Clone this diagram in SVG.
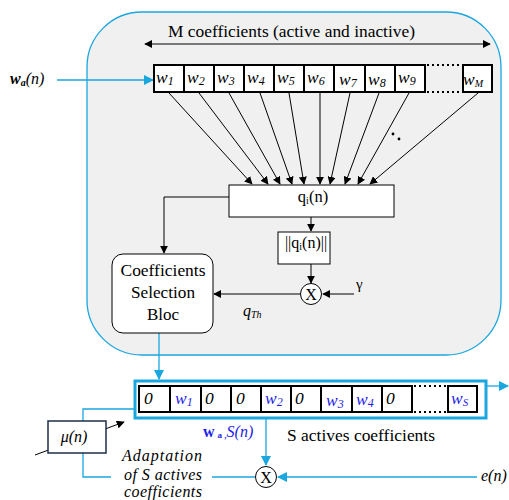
<svg xmlns="http://www.w3.org/2000/svg" width="509" height="500" viewBox="0 0 509 500" font-family="'Liberation Serif', 'Times New Roman', serif">
<defs>
<marker id="ab" viewBox="0 0 10 10" refX="9" refY="5" markerWidth="8" markerHeight="8" markerUnits="userSpaceOnUse" orient="auto-start-reverse"><path d="M0,0 L10,5 L0,10 z" fill="#000"/></marker>
<marker id="ac" viewBox="0 0 10 10" refX="9" refY="5" markerWidth="10" markerHeight="10" markerUnits="userSpaceOnUse" orient="auto-start-reverse"><path d="M0,0 L10,5 L0,10 z" fill="#1aa7e0"/></marker>
<style>
text{fill:#000}
.w{font-style:italic;font-size:17.5px}
.b{fill:#1e1ee6}
.cell{fill:#fff;stroke:#000;stroke-width:2}
.k{stroke:#000;stroke-width:1;fill:none}
.c{stroke:#1aa7e0;stroke-width:1.3;fill:none}
.dot{stroke:#000;stroke-width:2;stroke-dasharray:2,3;fill:none}
</style>
</defs>
<rect id="frame" x="87" y="12" width="414" height="343" rx="55" fill="#f0f0f0" stroke="#1aa7e0" stroke-width="1.3"/>
<g id="connectors">
<line class="k" x1="145" y1="44" x2="490" y2="44" marker-start="url(#ab)" marker-end="url(#ab)"/>
<line class="c" x1="57" y1="80" x2="153" y2="80" marker-end="url(#ac)"/>
<line class="k" x1="169" y1="93" x2="252" y2="184" marker-end="url(#ab)"/>
<line class="k" x1="199" y1="93" x2="268" y2="184" marker-end="url(#ab)"/>
<line class="k" x1="229" y1="93" x2="280" y2="184" marker-end="url(#ab)"/>
<line class="k" x1="260" y1="93" x2="292" y2="184" marker-end="url(#ab)"/>
<line class="k" x1="289" y1="93" x2="304" y2="184" marker-end="url(#ab)"/>
<line class="k" x1="320" y1="93" x2="320" y2="184" marker-end="url(#ab)"/>
<line class="k" x1="350" y1="93" x2="330" y2="184" marker-end="url(#ab)"/>
<line class="k" x1="379" y1="93" x2="345" y2="184" marker-end="url(#ab)"/>
<line class="k" x1="409" y1="93" x2="358" y2="184" marker-end="url(#ab)"/>
<line class="k" x1="478" y1="93" x2="370" y2="184" marker-end="url(#ab)"/>
<polyline class="k" points="229,197 164,197 164,253" marker-end="url(#ab)"/>
<line class="k" x1="311" y1="217" x2="311" y2="231" marker-end="url(#ab)"/>
<line class="k" x1="311" y1="264" x2="311" y2="283" marker-end="url(#ab)"/>
<line class="k" x1="354" y1="294" x2="323" y2="294" marker-end="url(#ab)"/>
<line class="k" x1="300" y1="294" x2="214" y2="294" marker-end="url(#ab)"/>
<line class="c" x1="159" y1="333" x2="159" y2="379" marker-end="url(#ac)"/>
<line class="c" x1="486" y1="386" x2="508" y2="386" marker-end="url(#ac)"/>
<polyline class="c" points="135,409 83,409 83,421"/>
<polyline class="c" points="83,453 83,477 111,477"/>
<line class="c" x1="212" y1="477" x2="255" y2="477"/>
<line class="c" x1="266" y1="418" x2="266" y2="465" marker-end="url(#ac)"/>
<line class="c" x1="477" y1="477" x2="278" y2="477" marker-end="url(#ac)"/>
<line class="k" x1="35" y1="455" x2="124" y2="422" marker-end="url(#ab)"/>
</g>
<text x="168" y="37" font-size="17" textLength="247" lengthAdjust="spacingAndGlyphs">M coefficients (active and inactive)</text>
<text x="10" y="84" font-size="16" font-style="italic" font-weight="bold">w<tspan font-size="10" dy="2">a</tspan><tspan dy="-2" font-weight="normal">(n)</tspan></text>
<g id="reg-top">
<rect class="cell" x="154" y="65" width="30" height="27"/>
<rect class="cell" x="184" y="65" width="30" height="27"/>
<rect class="cell" x="214" y="65" width="30" height="27"/>
<rect class="cell" x="244" y="65" width="30" height="27"/>
<rect class="cell" x="274" y="65" width="30" height="27"/>
<rect class="cell" x="304" y="65" width="30" height="27"/>
<rect class="cell" x="334" y="65" width="31" height="27"/>
<rect class="cell" x="365" y="65" width="30" height="27"/>
<rect class="cell" x="395" y="65" width="30" height="27"/>
<line class="dot" x1="427" y1="65" x2="462" y2="65"/>
<line class="dot" x1="427" y1="92" x2="462" y2="92"/>
<rect class="cell" x="463" y="65" width="29" height="27"/>
<text class="w" x="156" y="83">w<tspan font-size="12" dy="2">1</tspan></text>
<text class="w" x="187" y="83">w<tspan font-size="12" dy="2">2</tspan></text>
<text class="w" x="217" y="83">w<tspan font-size="12" dy="2">3</tspan></text>
<text class="w" x="247" y="83">w<tspan font-size="12" dy="2">4</tspan></text>
<text class="w" x="277" y="83">w<tspan font-size="12" dy="2">5</tspan></text>
<text class="w" x="307" y="83">w<tspan font-size="12" dy="2">6</tspan></text>
<text class="w" x="339" y="85">w<tspan font-size="12" dy="2">7</tspan></text>
<text class="w" x="368" y="85">w<tspan font-size="12" dy="2">8</tspan></text>
<text class="w" x="398" y="83">w<tspan font-size="12" dy="2">9</tspan></text>
<text class="w" x="463" y="85">w<tspan font-size="10" dy="2">M</tspan></text>
</g>
<circle cx="393" cy="134" r="1.4" fill="#000"/>
<circle cx="399" cy="139" r="1.4" fill="#000"/>
<g id="q">
<rect x="229" y="185" width="165" height="32" fill="#fff" stroke="#000" stroke-width="1"/>
<text x="313" y="202" font-size="16.5" text-anchor="middle">q<tspan font-size="10" dy="2">i</tspan><tspan dy="-2">(n)</tspan></text>
</g>
<g id="norm">
<rect x="278" y="232" width="52" height="32" fill="#fff" stroke="#000" stroke-width="1"/>
<text x="306" y="248" font-size="16" text-anchor="middle">||q<tspan font-size="10" dy="2">i</tspan><tspan dy="-2">(n)||</tspan></text>
</g>
<g id="mult1">
<circle cx="311" cy="294" r="10.5" fill="#fff" stroke="#000" stroke-width="1"/>
<text x="311" y="300" font-size="16" text-anchor="middle">X</text>
</g>
<text x="356" y="289" font-size="15">γ</text>
<text x="243" y="316" font-size="16" font-style="italic">q<tspan font-size="10" dy="2">Th</tspan></text>
<g id="csb">
<rect x="112" y="254" width="101" height="79" rx="11" fill="#fff" stroke="#000" stroke-width="1"/>
<text x="163" y="276" font-size="17" text-anchor="middle" textLength="85" lengthAdjust="spacingAndGlyphs">Coefficients</text>
<text x="163" y="298" font-size="17" text-anchor="middle" textLength="64" lengthAdjust="spacingAndGlyphs">Selection</text>
<text x="163" y="320" font-size="17" text-anchor="middle">Bloc</text>
</g>
<g id="reg-bot">
<rect x="135" y="381" width="351" height="37" fill="#fff" stroke="#1aa7e0" stroke-width="3"/>
<rect class="cell" x="139" y="386" width="31" height="26"/>
<rect class="cell" x="170" y="386" width="31" height="26"/>
<rect class="cell" x="201" y="386" width="30" height="26"/>
<rect class="cell" x="231" y="386" width="30" height="26"/>
<rect class="cell" x="261" y="386" width="30" height="26"/>
<rect class="cell" x="291" y="386" width="30" height="26"/>
<rect class="cell" x="321" y="386" width="31" height="26"/>
<rect class="cell" x="352" y="386" width="30" height="26"/>
<rect class="cell" x="382" y="386" width="30" height="26"/>
<line class="dot" x1="414" y1="386" x2="448" y2="386"/>
<line class="dot" x1="414" y1="412" x2="448" y2="412"/>
<rect class="cell" x="448" y="386" width="29" height="26"/>
<text class="w" x="144" y="404">0</text>
<text class="w b" x="175" y="404">w<tspan font-size="12" dy="2">1</tspan></text>
<text class="w" x="205" y="404">0</text>
<text class="w" x="236" y="404">0</text>
<text class="w b" x="265" y="404">w<tspan font-size="12" dy="2">2</tspan></text>
<text class="w" x="295" y="404">0</text>
<text class="w b" x="326" y="406">w<tspan font-size="12" dy="2">3</tspan></text>
<text class="w b" x="356" y="405">w<tspan font-size="12" dy="2">4</tspan></text>
<text class="w" x="386" y="404">0</text>
<text class="w b" x="451" y="404">w<tspan font-size="11" dy="2">S</tspan></text>
</g>
<text x="203" y="437" font-size="16" font-weight="bold" class="b">w<tspan font-size="9" dx="3" dy="1">a ,</tspan><tspan font-style="italic" font-weight="normal" font-size="16" dy="-1">S(n)</tspan></text>
<text x="287" y="441" font-size="17" textLength="148" lengthAdjust="spacingAndGlyphs">S actives coefficients</text>
<g id="mu">
<rect x="48" y="421" width="58" height="32" fill="#fff" stroke="#1c2e4a" stroke-width="1.5"/>
<text x="74" y="442" font-size="16" font-style="italic" text-anchor="middle">μ(n)</text>
</g>
<text x="122" y="461" font-size="16" font-style="italic" textLength="80" lengthAdjust="spacing">Adaptation</text>
<text x="124" y="480" font-size="16" font-style="italic" textLength="78" lengthAdjust="spacing">of S actives</text>
<text x="124" y="497" font-size="16" font-style="italic" textLength="78" lengthAdjust="spacing">coefficients</text>
<g id="mult2">
<circle cx="266" cy="477" r="10.5" fill="#fff" stroke="#000" stroke-width="1"/>
<text x="266" y="483" font-size="16" text-anchor="middle">X</text>
</g>
<text x="481" y="481" font-size="16" font-style="italic">e(n)</text>
</svg>
